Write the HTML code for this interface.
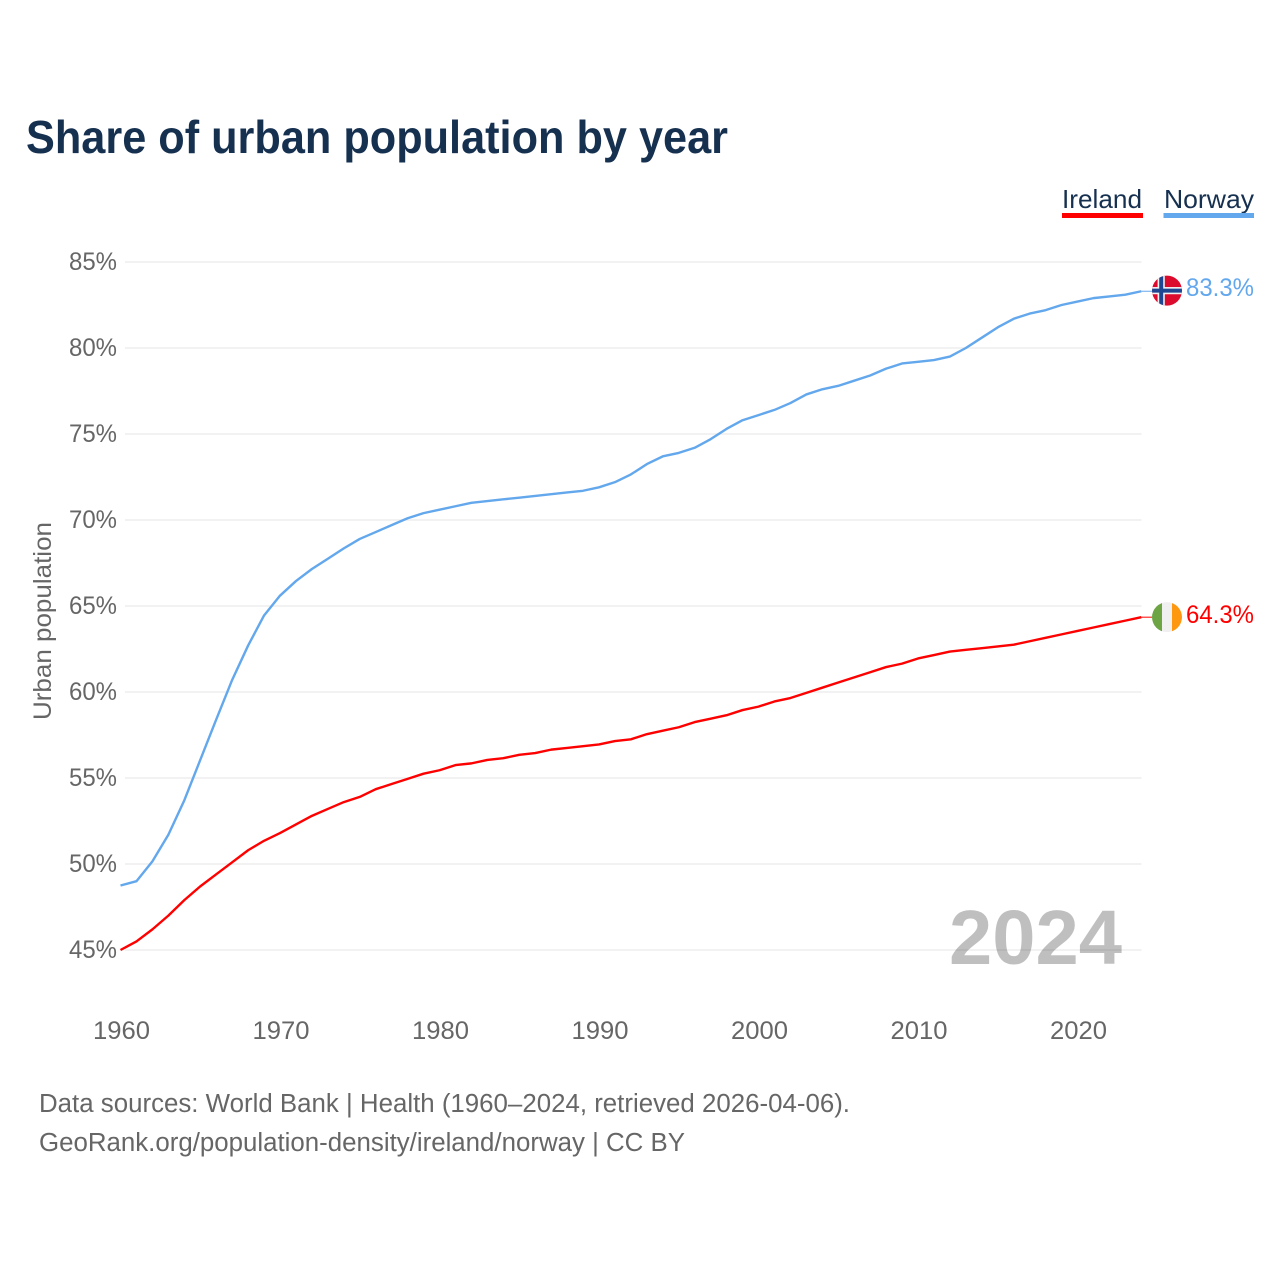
<!DOCTYPE html>
<html lang="en">
<head>
<meta charset="utf-8">
<title>Share of urban population by year</title>
<style>
html,body{margin:0;padding:0;background:#fff;}
svg{display:block;font-family:"Liberation Sans",sans-serif;}
</style>
</head>
<body>
<svg id="chart" xmlns="http://www.w3.org/2000/svg" width="1280" height="1280" viewBox="0 0 1280 1280">
  <defs>
    <clipPath id="flag-clip-no"><circle id="clip-no" cx="1167" cy="290" r="15"/></clipPath>
    <clipPath id="flag-clip-ie"><circle id="clip-ie" cx="1167" cy="618" r="15"/></clipPath>
  </defs>
  <rect x="0" y="0" width="1280" height="1280" fill="#fff"/>
  <text x="26" y="153" font-size="46" font-weight="700" fill="#163050" textLength="702" lengthAdjust="spacingAndGlyphs">Share of urban population by year</text>

  <g>
    <g>
      <text x="1062" y="208" font-size="26" fill="#163050" textLength="80" lengthAdjust="spacingAndGlyphs">Ireland</text>
      <rect x="1062" y="213" width="81" height="5" fill="#ff0000"/>
    </g>
    <g>
      <text x="1164" y="208" font-size="26" fill="#163050" textLength="90" lengthAdjust="spacingAndGlyphs">Norway</text>
      <rect x="1163.500" y="213" width="90.500" height="5" fill="#63a7ec"/>
    </g>
  </g>

  <g id="grid"></g>
  <g id="yticks"></g>
  <g id="xticks"></g>
  <text transform="translate(51,720) rotate(-90)" x="0" y="0" font-size="25" fill="#666666" textLength="198" lengthAdjust="spacingAndGlyphs">Urban population</text>
  <g id="series"></g>

  <g id="flag-no" clip-path="url(#flag-clip-no)"></g>
  <g id="flag-ie" clip-path="url(#flag-clip-ie)"></g>
  <g id="endlabels"></g>

  <text x="949" y="964" font-size="77" font-weight="700" fill="#000000" fill-opacity="0.25" textLength="173" lengthAdjust="spacingAndGlyphs">2024</text>
  <text x="39" y="1112" font-size="25.500" fill="#666666" textLength="811" lengthAdjust="spacingAndGlyphs">Data sources: World Bank | Health (1960–2024, retrieved 2026-04-06).</text>
  <text x="39" y="1151" font-size="25.500" fill="#666666" textLength="646" lengthAdjust="spacingAndGlyphs">GeoRank.org/population-density/ireland/norway | CC BY</text>
</svg>
<script>
var years = [1960,1961,1962,1963,1964,1965,1966,1967,1968,1969,1970,1971,1972,1973,1974,1975,1976,1977,1978,1979,1980,1981,1982,1983,1984,1985,1986,1987,1988,1989,1990,1991,1992,1993,1994,1995,1996,1997,1998,1999,2000,2001,2002,2003,2004,2005,2006,2007,2008,2009,2010,2011,2012,2013,2014,2015,2016,2017,2018,2019,2020,2021,2022,2023,2024];
var norwayValues = [48.75,49.0,50.15,51.7,53.7,56.05,58.4,60.7,62.7,64.45,65.6,66.45,67.15,67.75,68.35,68.9,69.3,69.7,70.1,70.4,70.6,70.8,71.0,71.1,71.2,71.3,71.4,71.5,71.6,71.7,71.9,72.2,72.65,73.25,73.7,73.9,74.2,74.7,75.3,75.8,76.1,76.4,76.8,77.3,77.6,77.8,78.1,78.4,78.8,79.1,79.2,79.3,79.5,80.0,80.6,81.2,81.7,82.0,82.2,82.5,82.7,82.9,83.0,83.1,83.3];
var irelandValues = [45.0,45.5,46.2,47.0,47.9,48.7,49.4,50.1,50.8,51.35,51.8,52.3,52.8,53.2,53.6,53.9,54.35,54.65,54.95,55.25,55.45,55.75,55.85,56.05,56.15,56.35,56.45,56.65,56.75,56.85,56.95,57.15,57.25,57.55,57.75,57.95,58.25,58.45,58.65,58.95,59.15,59.45,59.65,59.95,60.25,60.55,60.85,61.15,61.45,61.65,61.95,62.15,62.35,62.45,62.55,62.65,62.75,62.95,63.15,63.35,63.55,63.75,63.95,64.15,64.35];
var yTicks = [45,50,55,60,65,70,75,80,85];
var xTicks = [1960,1970,1980,1990,2000,2010,2020];
var norwayEndLabel = "83.3%";
var irelandEndLabel = "64.3%";

var NS = "http://www.w3.org/2000/svg";
function xScale(year){ return 120.5 + (year - 1960) * 15.95; }
function yScale(value){ return 950 - (value - 45) * 17.2; }
function make(tag, parent, attrs){
  var el = document.createElementNS(NS, tag);
  for (var k in attrs) el.setAttribute(k, attrs[k]);
  parent.appendChild(el);
  return el;
}

var gridG = document.getElementById("grid");
var yG = document.getElementById("yticks");
yTicks.forEach(function(t){
  var line = make("line", gridG, {x1:125, x2:1141.5, y1:yScale(t), y2:yScale(t), stroke:"#eeeeee", "stroke-width":1.5});
  
  
  var lab = make("text", yG, {x:117, y:yScale(t)+8, "text-anchor":"end", "font-size":25, fill:"#666666", textLength:48, lengthAdjust:"spacingAndGlyphs"});
  lab.textContent = t + "%";
  
  
});

var xG = document.getElementById("xticks");
xTicks.forEach(function(t){
  var lab = make("text", xG, {x:xScale(t)+1, y:1039, "text-anchor":"middle", "font-size":25, fill:"#666666", textLength:57, lengthAdjust:"spacingAndGlyphs"});
  lab.textContent = t;
  
  
});

function linePoints(values){
  return values.map(function(v,i){ return xScale(years[i]).toFixed(2) + "," + yScale(v).toFixed(2); }).join(" ");
}
var seriesG = document.getElementById("series");

var norwayLine = make("polyline", seriesG, {points:linePoints(norwayValues), fill:"none", stroke:"#63a7ec", "stroke-width":2.4, "stroke-linejoin":"round"});



var irelandLine = make("polyline", seriesG, {points:linePoints(irelandValues), fill:"none", stroke:"#ff0000", "stroke-width":2.4, "stroke-linejoin":"round"});



var noY = yScale(norwayValues[norwayValues.length-1]);
var ieY = yScale(irelandValues[irelandValues.length-1]);
var xEnd = xScale(years[years.length-1]);

var noLeader = make("line", seriesG, {x1:xEnd, x2:1153, y1:noY, y2:noY, stroke:"#63a7ec", "stroke-width":1});



var ieLeader = make("line", seriesG, {x1:xEnd, x2:1153, y1:ieY, y2:ieY, stroke:"#ff0000", "stroke-width":1});



var noFlagY = noY - 0.6;
document.getElementById("clip-no").setAttribute("cy", noFlagY);
document.getElementById("clip-ie").setAttribute("cy", ieY);

var fn = document.getElementById("flag-no");
make("rect", fn, {x:1152, y:noFlagY-16, width:30, height:32, fill:"#dc0a2c"});
make("rect", fn, {x:1152, y:noFlagY-3.6, width:30, height:7.2, fill:"#f1f1f1"});
make("rect", fn, {x:1157.6, y:noFlagY-16, width:7.2, height:32, fill:"#f1f1f1"});
make("rect", fn, {x:1152, y:noFlagY-2, width:30, height:4, fill:"#1f4690"});
make("rect", fn, {x:1159.2, y:noFlagY-16, width:4, height:32, fill:"#1f4690"});

var fi = document.getElementById("flag-ie");
make("rect", fi, {x:1152, y:ieY-16, width:10, height:32, fill:"#6da544"});
make("rect", fi, {x:1162, y:ieY-16, width:10, height:32, fill:"#f0f0f0"});
make("rect", fi, {x:1172, y:ieY-16, width:10, height:32, fill:"#ff9811"});

var endG = document.getElementById("endlabels");
var noLab = make("text", endG, {x:1186, y:noY+5, "font-size":25, fill:"#63a7ec", textLength:68, lengthAdjust:"spacingAndGlyphs"});
noLab.textContent = norwayEndLabel;



var ieLab = make("text", endG, {x:1186, y:ieY+6, "font-size":25, fill:"#ff0000", textLength:68, lengthAdjust:"spacingAndGlyphs"});
ieLab.textContent = irelandEndLabel;


</script>
</body>
</html>
